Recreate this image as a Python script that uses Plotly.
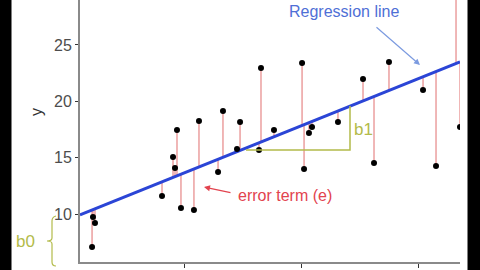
import plotly.graph_objects as go

# ---- data ----
x_vals = [2.14, 2.22, 2.39, 8.12, 9.06, 9.23, 9.40, 9.74, 10.85, 11.28, 12.91, 13.33,
          14.53, 14.79, 16.41, 16.58, 17.69, 20.09, 20.26, 20.68, 20.94, 23.16, 25.30,
          26.24, 27.52, 30.43, 31.54, 33.25, 33.59]
y_vals = [7.08, 9.74, 9.21, 11.61, 15.06, 14.09, 17.46, 10.54, 10.36, 18.26, 13.73, 19.14,
          15.77, 18.17, 15.68, 22.96, 17.46, 23.40, 14.00, 17.19, 17.72, 18.17, 21.98,
          14.53, 23.49, 21.00, 14.26, 31.00, 17.72]
b0 = 9.46     # intercept of regression line
b1 = 0.418    # slope of regression line
x_ticks = [10, 20, 30]
y_ticks = [10, 15, 20, 25]

X_RANGE = [1.11, 33.59]
Y_RANGE = [5.745, 28.99]

# layout in pixels
W, H = 480, 270
L, R, T, B = 80, 460, 0, 262     # plot area edges

def px(xp):
    return xp / W

def py(yp):
    return (H - yp) / H

line_x = X_RANGE
line_y = [b0 + b1 * v for v in line_x]

res_x, res_y = [], []
for xv, yv in zip(x_vals, y_vals):
    res_x += [xv, xv, None]
    res_y += [yv, b0 + b1 * xv, None]

fig = go.Figure()
fig.add_trace(go.Scatter(x=res_x, y=res_y, mode="lines",
                         line=dict(color="#e89090", width=1.3), hoverinfo="skip"))
fig.add_trace(go.Scatter(x=line_x, y=line_y, mode="lines",
                         line=dict(color="#2b45d6", width=3)))
fig.add_trace(go.Scatter(x=x_vals, y=y_vals, mode="markers",
                         marker=dict(color="black", size=6)))

# letterbox bars on a full-figure overlay subplot (pixel units)
for x0, x1 in [(0, 11), (468, W)]:
    fig.add_trace(go.Scatter(x=[x0, x1, x1, x0, x0], y=[0, 0, H, H, 0],
                             mode="lines", fill="toself", fillcolor="black",
                             line=dict(color="black", width=1),
                             xaxis="x2", yaxis="y2", hoverinfo="skip"))

olive = "#b3bb4a"

shapes = [
    # b1 triangle
    dict(type="path", xref="paper", yref="paper",
         path=f"M {px(246)} {py(150)} L {px(350)} {py(150)} L {px(350)} {py(106)}",
         line=dict(color=olive, width=1.5)),
    # b0 brace
    dict(type="path", xref="paper", yref="paper",
         path=(f"M {px(56)} {py(216)} Q {px(52)} {py(217)} {px(52)} {py(221)} "
               f"L {px(52)} {py(238)} Q {px(52)} {py(241)} {px(47)} {py(241)} "
               f"Q {px(52)} {py(241)} {px(52)} {py(244)} L {px(52)} {py(262)} "
               f"Q {px(52)} {py(266)} {px(56)} {py(266)}"),
         line=dict(color=olive, width=1.2)),
]

font_family = "Liberation Sans, Arial, sans-serif"

def label(xp, yp, text, size, color, angle=0):
    return dict(xref="paper", yref="paper", x=px(xp), y=py(yp), text=text,
                xanchor="center", yanchor="middle", showarrow=False, textangle=angle,
                font=dict(family=font_family, size=size, color=color))

def arrow(hx, hy, tx, ty, color):
    return dict(xref="paper", yref="paper", x=px(hx), y=py(hy), ax=tx - hx, ay=ty - hy,
                axref="pixel", ayref="pixel", text="", showarrow=True, arrowhead=2,
                arrowsize=1, arrowwidth=1.2, arrowcolor=color)

annotations = [
    label(344, 12, "Regression line", 16, "#4f6fd6"),
    arrow(420, 65, 375, 26, "#7c9be0"),
    label(285, 195, "error term (e)", 16, "#e2434e"),
    arrow(204, 187, 232, 193, "#e2434e"),
    label(363, 129, "b1", 17, olive),
    label(25, 241, "b0", 17, olive),
    label(36, 112, "y", 16, "#333333", -90),
]

fig.update_layout(
    width=W, height=H,
    margin=dict(l=0, r=0, t=0, b=0),
    paper_bgcolor="white", plot_bgcolor="rgba(0,0,0,0)",
    showlegend=False,
    shapes=shapes, annotations=annotations,
    xaxis=dict(domain=[L / W, R / W], range=X_RANGE, tickvals=x_ticks,
               ticktext=[str(v) for v in x_ticks],
               showgrid=False, zeroline=False, showline=True, linecolor="#8a8a8a",
               linewidth=2, ticks="outside", ticklen=4, tickcolor="#333333",
               tickfont=dict(family=font_family, size=16, color="#4d4d4d"),
               automargin=False, fixedrange=True, anchor="y"),
    yaxis=dict(domain=[(H - B) / H, 1 - T / H], range=Y_RANGE, tickvals=y_ticks,
               ticktext=[str(v) for v in y_ticks],
               showgrid=False, zeroline=False, showline=True, linecolor="#8a8a8a",
               linewidth=2, ticks="outside", ticklen=3, tickcolor="#333333",
               tickfont=dict(family=font_family, size=16, color="#4d4d4d"),
               automargin=False, fixedrange=True, anchor="x"),
    xaxis2=dict(domain=[0, 1], range=[0, W], visible=False, anchor="y2",
                fixedrange=True),
    yaxis2=dict(domain=[0, 1], range=[0, H], visible=False, anchor="x2",
                fixedrange=True),
)

fig.write_html("out.html")
